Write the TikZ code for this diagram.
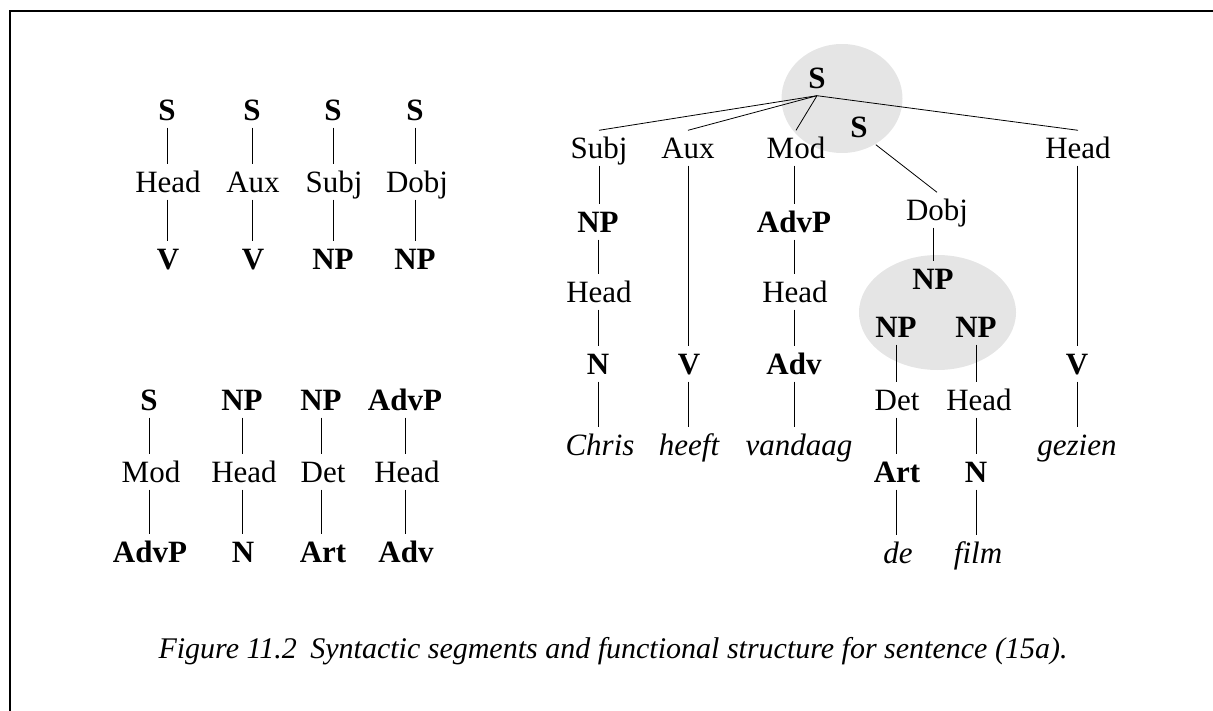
\documentclass[tikz,border=0pt]{standalone}
\usepackage{fontspec}
\setmainfont{Liberation Serif}
\begin{document}
\begin{tikzpicture}[x=1pt,y=-1pt,
  base/.style={inner xsep=2pt, inner ysep=7pt, text height=21pt, text depth=0pt, font=\fontsize{31}{37}\selectfont},
  cat/.style={base, font=\fontsize{31}{37}\selectfont\bfseries},
  fn/.style={base},
  wd/.style={base, font=\fontsize{31}{37}\selectfont\itshape},
  capt/.style={base, font=\fontsize{30}{36}\selectfont\itshape},
  edge/.style={draw=black, line width=0.8pt},
  blob/.style={fill=black!10}]
\useasboundingbox (0,0) rectangle (1213,711);
\draw[line width=2.5pt] (10,711) -- (10,11) -- (1213,11);

% shaded blobs
\fill[blob] (842,98.5) ellipse [x radius=60.5, y radius=54.5];
\fill[blob] (937.5,312.5) ellipse [x radius=78.5, y radius=57.5];

% ---- segments, first row
\node[cat] (a1) at (167,110) {S};
\node[fn]  (a2) at (168,182) {Head};
\node[cat] (a3) at (168,259) {V};
\node[cat] (b1) at (252,110) {S};
\node[fn]  (b2) at (253,182) {Aux};
\node[cat] (b3) at (253,259) {V};
\node[cat] (c1) at (333,110) {S};
\node[fn]  (c2) at (334,182) {Subj};
\node[cat] (c3) at (333,259) {NP};
\node[cat] (d1) at (415,110) {S};
\node[fn]  (d2) at (417,182) {Dobj};
\node[cat] (d3) at (415,259) {NP};
\foreach \n in {a,b,c,d}{
  \draw[edge] (\n1.south) -- (\n1.south |- \n2.north);
  \draw[edge] (\n1.south |- \n2.south) -- (\n1.south |- \n3.north);
}

% ---- segments, second row
\node[cat] (e1) at (149,400) {S};
\node[fn]  (e2) at (151,472) {Mod};
\node[cat] (e3) at (150,552) {AdvP};
\node[cat] (f1) at (242,400) {NP};
\node[fn]  (f2) at (244,472) {Head};
\node[cat] (f3) at (243,552) {N};
\node[cat] (g1) at (321,400) {NP};
\node[fn]  (g2) at (323,472) {Det};
\node[cat] (g3) at (323,552) {Art};
\node[cat] (h1) at (405,400) {AdvP};
\node[fn]  (h2) at (407,472) {Head};
\node[cat] (h3) at (406,552) {Adv};
\foreach \n in {e,f,g,h}{
  \draw[edge] (\n1.south) -- (\n1.south |- \n2.north);
  \draw[edge] (\n1.south |- \n2.south) -- (\n1.south |- \n3.north);
}

% ---- functional structure
\node[cat] (S1) at (817,78) {S};
\node[cat, inner xsep=8pt] (S2) at (859,127) {S};

\node[fn] (Subj) at (599,148) {Subj};
\node[fn] (Aux) at (688,148) {Aux};
\node[fn] (Mod) at (796,148) {Mod};
\node[fn] (HeadS) at (1078,148) {Head};

\node[cat] (NPa) at (598,222) {NP};
\node[cat] (AdvPa) at (794,222) {AdvP};
\node[fn] (Dobj) at (937,210) {Dobj};

\node[fn] (HeadN) at (599,292) {Head};
\node[fn] (HeadA) at (795,292) {Head};
\node[cat] (NPd) at (933,279) {NP};

\node[cat] (NPl) at (896,327) {NP};
\node[cat] (NPr) at (976,327) {NP};

\node[cat] (Na) at (598,364) {N};
\node[cat] (Va) at (689,364) {V};
\node[cat] (Adva) at (794,364) {Adv};
\node[cat] (Vb) at (1077,364) {V};

\node[fn] (Det) at (897,400) {Det};
\node[fn] (HeadD) at (979,400) {Head};

\node[wd] (w1) at (600,445) {Chris};
\node[wd] (w2) at (689,445) {heeft};
\node[wd] (w3) at (799,445) {vandaag};
\node[wd] (w6) at (1077,445) {gezien};

\node[cat] (Art) at (897,472) {Art};
\node[cat] (Nb) at (976,472) {N};

\node[wd] (w4) at (898,553) {de};
\node[wd] (w5) at (978,553) {film};

\foreach \c in {Subj,Aux,Mod,HeadS}
  \draw[edge] (S1.south) -- (\c.north);
\draw[edge] (S2.south east) -- (Dobj.north);

% vertical connectors (aligned on the upper node's column)
\draw[edge] (Subj.south) -- (Subj.south |- NPa.north);
\draw[edge] (NPa.south) -- (NPa.south |- HeadN.north);
\draw[edge] (NPa.south |- HeadN.south) -- (NPa.south |- Na.north);
\draw[edge] (Na.south) -- (Na.south |- w1.north);

\draw[edge] (Aux.south) -- (Aux.south |- Va.north);
\draw[edge] (Aux.south |- Va.south) -- (Aux.south |- w2.north);

\draw[edge] (AdvPa.north |- Mod.south) -- (AdvPa.north);
\draw[edge] (AdvPa.south) -- (AdvPa.south |- HeadA.north);
\draw[edge] (AdvPa.south |- HeadA.south) -- (Adva.north);
\draw[edge] (Adva.south) -- (Adva.south |- w3.north);

\draw[edge] (NPd.north |- Dobj.south) -- (NPd.north);
\draw[edge] (NPl.south) -- (NPl.south |- Det.north);
\draw[edge] (NPl.south |- Det.south) -- (NPl.south |- Art.north);
\draw[edge] (NPl.south |- Art.south) -- (NPl.south |- w4.north);
\draw[edge] (NPr.south) -- (NPr.south |- HeadD.north);
\draw[edge] (NPr.south |- HeadD.south) -- (Nb.north);
\draw[edge] (Nb.south) -- (Nb.south |- w5.north);

\draw[edge] (Vb.north |- HeadS.south) -- (Vb.north);
\draw[edge] (Vb.south) -- (Vb.south |- w6.north);

% caption
\node[capt] (cap) at (613,648) {Figure 11.2\hspace{0.45em}Syntactic segments and functional structure for sentence (15a).};
\end{tikzpicture}
\end{document}
